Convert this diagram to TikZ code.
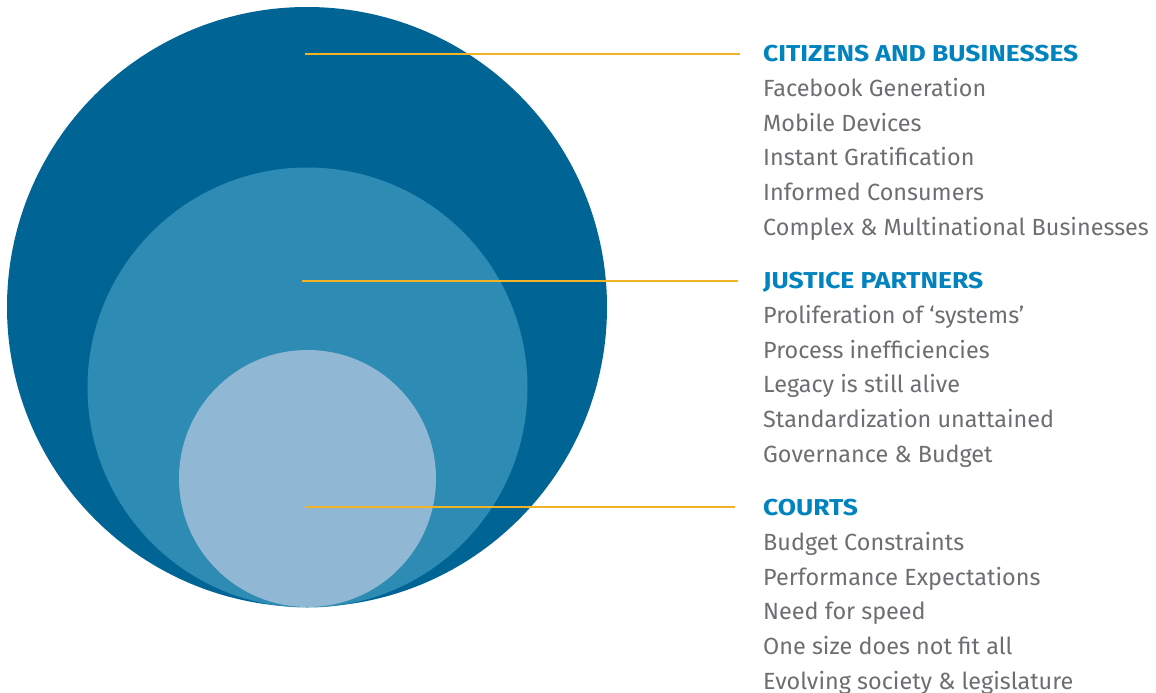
\documentclass[tikz,border=0pt]{standalone}
\usepackage{fontspec}
\setmainfont{Fira Sans}
\newfontfamily\headfont{Fira Sans}[FakeStretch=1.15]
\usetikzlibrary{positioning}
\definecolor{outerblue}{HTML}{006595}
\definecolor{middleblue}{HTML}{2E8BB4}
\definecolor{innerblue}{HTML}{90B8D5}
\definecolor{headblue}{HTML}{0083BF}
\definecolor{itemgray}{HTML}{6D6E71}
\definecolor{leaderyellow}{HTML}{F2B324}
\tikzset{
  disc/.style={circle, fill=#1, draw=none, inner sep=0pt},
  heading/.style={anchor=base west, inner sep=0pt, text=headblue, font=\fontsize{23}{27}\headfont\bfseries},
  item/.style={anchor=base west, inner sep=0pt, text=itemgray, font=\fontsize{23.4}{27}\selectfont},
  leader/.style={draw=leaderyellow, line width=1.6pt},
}
\begin{document}
\begin{tikzpicture}[x=1pt, y=-1pt]
    \useasboundingbox (0,0) rectangle (1156,693);

    % Nested circles
    \node[disc=outerblue, minimum size=600pt] (outer) at (307,307) {};
    \node[disc=middleblue, minimum size=440pt] (middle) at (307.5,387.5) {};
    \node[disc=innerblue, minimum size=257pt] (inner) at (307.5,478.5) {};

    % Leader start points
    \coordinate (citpt) at (305,54);
    \coordinate (jusppt) at (302,281);
    \coordinate (courpt) at (305,507);

    % Headings
    \node[heading] (cit) at (763,61.7) {CITIZENS AND BUSINESSES};
    \node[heading] (jus) at (763,288.5) {JUSTICE PARTNERS};
    \node[heading] (cour) at (763,515.5) {COURTS};

    % Items
    \foreach \txt [count=\i] in {Facebook Generation, Mobile Devices, Instant Gratification, Informed Consumers, Complex \& Multinational Businesses}
        \node[item] (cit\i) at (763,61.7+34.75*\i) {\txt};
    \foreach \txt [count=\i] in {Proliferation of ‘systems’, Process inefficiencies, Legacy is still alive, Standardization unattained, Governance \& Budget}
        \node[item] (jus\i) at (763,288.5+34.75*\i) {\txt};
    \foreach \txt [count=\i] in {Budget Constraints, Performance Expectations, Need for speed, One size does not fit all, Evolving society \& legislature}
        \node[item] (cour\i) at (763,515.5+34.75*\i) {\txt};

    % Leaders
    \draw[leader] (citpt) -- ([xshift=-23pt]cit.west |- citpt);
    \draw[leader] (jusppt) -- ([xshift=-25pt]jus.west |- jusppt);
    \draw[leader] (courpt) -- ([xshift=-28pt]cour.west |- courpt);
\end{tikzpicture}
\end{document}
